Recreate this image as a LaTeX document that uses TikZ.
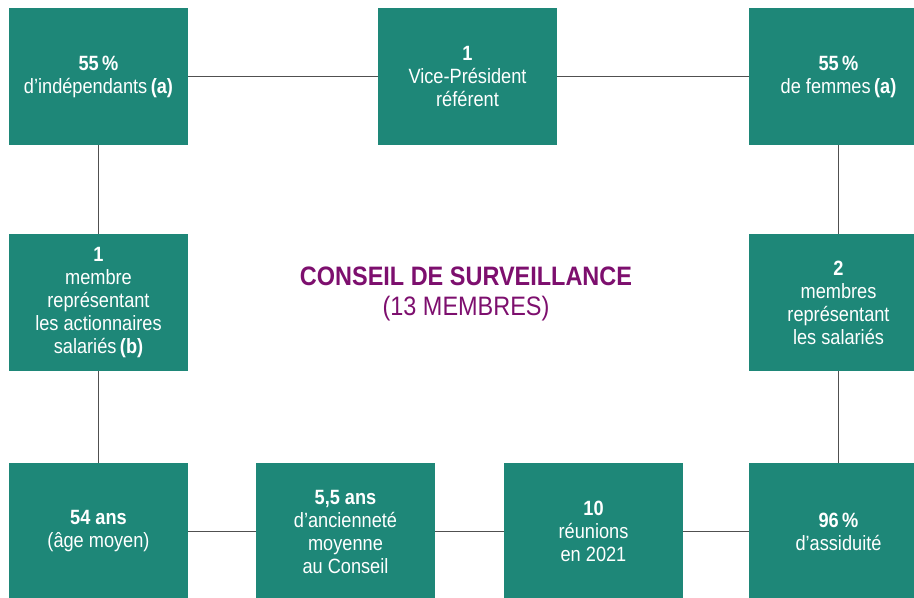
\documentclass[tikz,border=0pt]{standalone}
\usepackage{fontspec}
\setmainfont{Liberation Sans}[FakeStretch=0.88]
\definecolor{teal}{RGB}{30,135,120}
\definecolor{plum}{RGB}{125,15,110}
\definecolor{wire}{RGB}{80,80,80}
\begin{document}
\begin{tikzpicture}[x=0.75pt,y=-0.75pt,
  box/.style={fill=teal,draw=none,minimum width=134.25pt,minimum height=102.75pt,inner sep=0pt,
    text=white,align=center,font=\fontsize{15.5}{17.25}\selectfont},
  link/.style={draw=wire,line width=1.4pt},
  title/.style={text=plum,align=center,font=\fontsize{20}{23}\selectfont}]
\useasboundingbox (0,0) rectangle (914,597);
\node[box] (A) at (98.5,76.5) {\textbf{55\,\%}\\d’indépendants\,\textbf{(a)}};
\node[box] (B) at (467.5,76.5) {\textbf{1}\\Vice-Président\\référent};
\node[box] (C) at (838.5,76.5) {\textbf{55\,\%}\\de femmes\,\textbf{(a)}};
\node[box] (D) at (98.5,302.5) {\textbf{1}\\membre\\représentant\\les actionnaires\\salariés\,\textbf{(b)}};
\node[box] (E) at (838.5,302.5) {\textbf{2}\\membres\\représentant\\les salariés};
\node[box] (F) at (98.5,531.5) {\textbf{54 ans}\\(âge moyen)};
\node[box] (G) at (345.5,531.5) {\textbf{5,5 ans}\\d’ancienneté\\moyenne\\au Conseil};
\node[box] (H) at (593.5,531.5) {\textbf{10}\\réunions\\en 2021};
\node[box] (I) at (838.5,531.5) {\textbf{96\,\%}\\d’assiduité};
\node[title] (T) at (466,294) {\textbf{CONSEIL DE SURVEILLANCE}\\(13 MEMBRES)};
\draw[link] (A) -- (B);
\draw[link] (B) -- (C);
\draw[link] (A) -- (D);
\draw[link] (D) -- (F);
\draw[link] (C) -- (E);
\draw[link] (E) -- (I);
\draw[link] (F) -- (G);
\draw[link] (G) -- (H);
\draw[link] (H) -- (I);
\end{tikzpicture}
\end{document}
